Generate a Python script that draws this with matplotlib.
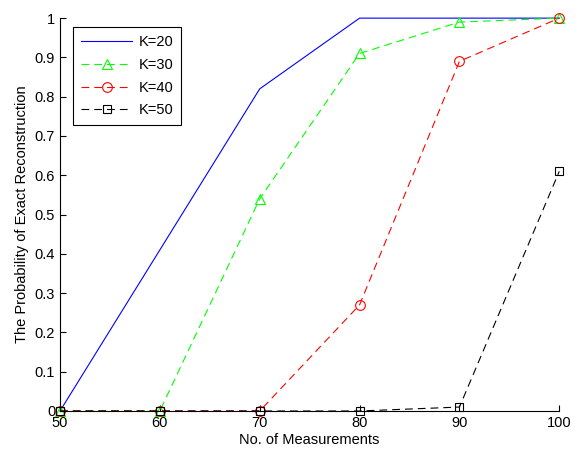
import matplotlib
matplotlib.use("Agg")
import matplotlib.pyplot as plt

# data
measurements = [50, 60, 70, 80, 90, 100]
k20 = [0, 0.41, 0.82, 1.0, 1.0, 1.0]
k30 = [0, 0, 0.54, 0.91, 0.99, 1.0]
k40 = [0, 0, 0, 0.27, 0.89, 1.0]
k50 = [0, 0, 0, 0, 0.01, 0.61]

x_ticks = [50, 60, 70, 80, 90, 100]
y_ticks = [0, 0.1, 0.2, 0.3, 0.4, 0.5, 0.6, 0.7, 0.8, 0.9, 1]
y_labels = ['0', '0.1', '0.2', '0.3', '0.4', '0.5', '0.6', '0.7', '0.8', '0.9', '1']

plt.rcParams['font.family'] = ['Liberation Sans', 'DejaVu Sans']
plt.rcParams['font.size'] = 10

fig = plt.figure(figsize=(5.86, 4.5), dpi=100, facecolor='white')
ax = fig.add_axes([0.1024, 0.0867, 0.852, 0.873])

dash = (0, (7, 4.5))
ax.plot(measurements, k20, color='blue', linewidth=0.8, label='K=20', clip_on=False)
ax.plot(measurements, k30, color='#00ff00', linewidth=0.8, linestyle=dash,
        marker='^', markersize=7, markerfacecolor='none', markeredgecolor='#00ff00',
        markeredgewidth=0.8, label='K=30', clip_on=False)
ax.plot(measurements, k40, color='red', linewidth=0.8, linestyle=dash,
        marker='o', markersize=7, markerfacecolor='none', markeredgecolor='red',
        markeredgewidth=0.8, label='K=40', clip_on=False)
ax.plot(measurements, k50, color='black', linewidth=0.8, linestyle=dash,
        marker='s', markersize=6, markerfacecolor='none', markeredgecolor='black',
        markeredgewidth=0.8, label='K=50', clip_on=False)

ax.set_xlim(50, 100)
ax.set_ylim(0, 1)
ax.set_xticks(x_ticks)
ax.set_yticks(y_ticks)
ax.set_yticklabels(y_labels)
ax.tick_params(direction='in', length=4, width=0.8, labelsize=10.5)
ax.spines['top'].set_visible(False)
ax.spines['right'].set_visible(False)
for s in ['left', 'bottom']:
    ax.spines[s].set_linewidth(0.8)

ax.set_xlabel('No. of Measurements', fontsize=10.5, labelpad=2)
ax.set_ylabel('The Probability of Exact Reconstruction', fontsize=10.5, labelpad=4)

leg = ax.legend(loc='upper left', bbox_to_anchor=(0.026, 0.977), borderaxespad=0,
                fontsize=10.5, frameon=True, fancybox=False, edgecolor='black',
                framealpha=1, handlelength=3.5, borderpad=0.55, labelspacing=0.6,
                handletextpad=0.45)
leg.get_frame().set_linewidth(0.8)

fig.savefig('out.png', dpi=100)
